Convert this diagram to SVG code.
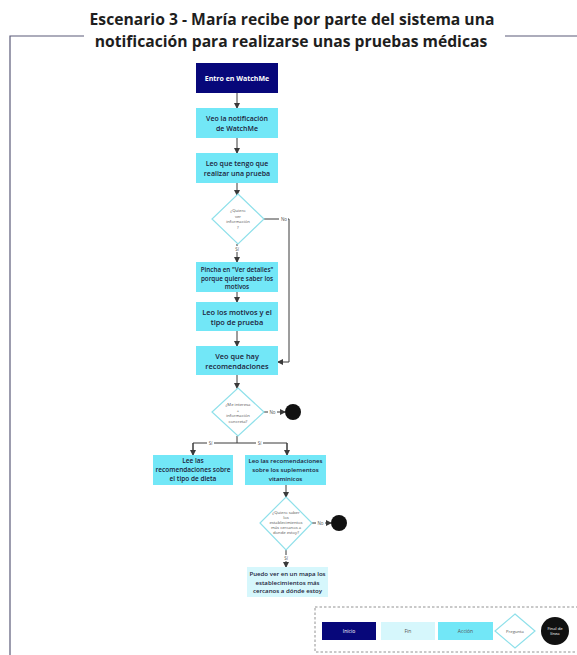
<svg xmlns="http://www.w3.org/2000/svg" width="577" height="655" viewBox="0 0 577 655">
<defs>
<marker id="ah" markerWidth="6" markerHeight="6" refX="5" refY="3" orient="auto" markerUnits="userSpaceOnUse">
<path d="M0,0 L6,3 L0,6 Z" fill="#3a3a3a"/>
</marker>
<style>
.title{font-family:"Open Sans","Noto Sans",sans-serif;font-weight:700;font-size:15.7px;fill:#1e1e1e}
.t{font-family:"Open Sans","Noto Sans",sans-serif;font-weight:600;font-size:7px;fill:#1c1c3a;text-anchor:middle}
.tw{font-family:"Open Sans","Noto Sans",sans-serif;font-weight:700;font-size:7px;fill:#ffffff;text-anchor:middle}
.ts{font-family:"Open Sans","Noto Sans",sans-serif;font-size:4.2px;fill:#555;text-anchor:middle}
.lbl{font-family:"Open Sans","Noto Sans",sans-serif;font-size:4.5px;fill:#555;text-anchor:middle}
.start{fill:#07077a}
.act{fill:#72e7f7}
.fin{fill:#d6f7fc}
.dia{fill:#ffffff;stroke:#8fe0ea;stroke-width:1.2}
.end{fill:#111111}
.c{fill:none;stroke:#3a3a3a;stroke-width:1}
.frame{fill:none;stroke:#5a5a78;stroke-width:1.2}
</style>
</defs>
<rect width="577" height="655" fill="#ffffff"/>
<path class="frame" d="M84,36 H10 V655 M505,36 H577"/>
<text class="title" x="292" y="25" text-anchor="middle">Escenario 3 - María recibe por parte del sistema una</text>
<text class="title" x="291" y="47" text-anchor="middle">notificación para realizarse unas pruebas médicas</text>

<g id="connectors">
<path class="c" d="M237,93 V108" marker-end="url(#ah)"/>
<path class="c" d="M237,138 V153" marker-end="url(#ah)"/>
<path class="c" d="M237,183 V195" marker-end="url(#ah)"/>
<path class="c" d="M237,244 V262" marker-end="url(#ah)"/>
<rect x="234" y="246" width="6" height="6" fill="#fff"/>
<text class="lbl" x="237" y="250.5">Sí</text>
<path class="c" d="M263,219 H289 V362 H278" marker-end="url(#ah)"/>
<rect x="279" y="215" width="9" height="7" fill="#fff"/>
<text class="lbl" x="284" y="220.5">No</text>
<path class="c" d="M237,292 V302" marker-end="url(#ah)"/>
<path class="c" d="M237,331 V346" marker-end="url(#ah)"/>
<path class="c" d="M237,375 V388" marker-end="url(#ah)"/>
<path class="c" d="M263,412 H285" marker-end="url(#ah)"/>
<rect x="268" y="408" width="9" height="7" fill="#fff"/>
<text class="lbl" x="272.5" y="413.5">No</text>
<path class="c" d="M237,436 V443 M193,453 V443 H287 V453"/>
<path class="c" d="M193,443 V455" marker-end="url(#ah)"/>
<path class="c" d="M287,443 V455" marker-end="url(#ah)"/>
<rect x="207" y="440" width="7" height="6" fill="#fff"/>
<text class="lbl" x="210.5" y="444.5">Sí</text>
<rect x="256" y="440" width="7" height="6" fill="#fff"/>
<text class="lbl" x="259.5" y="444.5">Sí</text>
<path class="c" d="M286,485 V497" marker-end="url(#ah)"/>
<path class="c" d="M312,523 H331" marker-end="url(#ah)"/>
<rect x="316" y="519" width="9" height="7" fill="#fff"/>
<text class="lbl" x="320.5" y="524.5">No</text>
<path class="c" d="M286,550 V567" marker-end="url(#ah)"/>
<rect x="283" y="555" width="6" height="6" fill="#fff"/>
<text class="lbl" x="286" y="559.5">Sí</text>
</g>

<g id="n1"><rect class="start" x="196" y="63" width="82" height="30"/><text class="tw" x="237" y="80.5">Entro en WatchMe</text></g>
<g id="n2"><rect class="act" x="196" y="108" width="82" height="30"/><text class="t" x="237" y="121">Veo la notificación</text><text class="t" x="237" y="131">de WatchMe</text></g>
<g id="n3"><rect class="act" x="196" y="153" width="82" height="30"/><text class="t" x="237" y="166">Leo que tengo que</text><text class="t" x="237" y="176">realizar una prueba</text></g>
<g id="d1"><path class="dia" d="M238,194 L264,219 L238,244 L212,219 Z"/><text class="ts" x="238" y="212">¿Quiero</text><text class="ts" x="238" y="217.5">ver</text><text class="ts" x="238" y="223">información</text><text class="ts" x="238" y="228.5">?</text></g>
<g id="n4"><rect class="act" x="196" y="262" width="82" height="30"/><text class="t" x="237" y="272" style="font-size:6.3px">Pincha en "Ver detalles"</text><text class="t" x="237" y="280.5" style="font-size:6.3px">porque quiere saber los</text><text class="t" x="237" y="289" style="font-size:6.3px">motivos</text></g>
<g id="n5"><rect class="act" x="196" y="302" width="82" height="29"/><text class="t" x="237" y="314.5" style="font-size:7.4px">Leo los motivos y el</text><text class="t" x="237" y="325" style="font-size:7.4px">tipo de prueba</text></g>
<g id="n6"><rect class="act" x="196" y="346" width="82" height="29"/><text class="t" x="237" y="358.5" style="font-size:7.4px">Veo que hay</text><text class="t" x="237" y="369" style="font-size:7.4px">recomendaciones</text></g>
<g id="d2"><path class="dia" d="M238,388 L264,412 L238,436 L212,412 Z"/><text class="ts" x="238" y="406">¿Me interesa</text><text class="ts" x="238" y="411.5">+</text><text class="ts" x="238" y="417">información</text><text class="ts" x="238" y="422.5">concreta?</text></g>
<g id="e1"><circle class="end" cx="293" cy="412" r="8"/></g>
<g id="n7"><rect class="act" x="153" y="455" width="80" height="30"/><text class="t" x="193" y="463" style="font-size:6.5px">Lee las</text><text class="t" x="193" y="472" style="font-size:6.5px">recomendaciones sobre</text><text class="t" x="193" y="481" style="font-size:6.5px">el tipo de dieta</text></g>
<g id="n8"><rect class="act" x="245" y="455" width="81" height="30"/><text class="t" x="285.5" y="463" style="font-size:6.1px">Leo las recomendaciones</text><text class="t" x="285.5" y="472" style="font-size:6.1px">sobre los suplementos</text><text class="t" x="285.5" y="481" style="font-size:6.1px">vitamínicos</text></g>
<g id="d3"><path class="dia" d="M286,497 L312,523 L286,550 L260,523 Z"/><text class="ts" x="286" y="514">¿Quiero saber</text><text class="ts" x="286" y="519">los</text><text class="ts" x="286" y="524">establecimientos</text><text class="ts" x="286" y="529">más cercanos a</text><text class="ts" x="286" y="534">donde estoy?</text></g>
<g id="e2"><circle class="end" cx="339" cy="523" r="8"/></g>
<g id="n9"><rect class="fin" x="247" y="567" width="81" height="30"/><text class="t" x="287.5" y="576" style="font-size:6.1px">Puedo ver en un mapa los</text><text class="t" x="287.5" y="584.5" style="font-size:6.1px">establecimientos más</text><text class="t" x="287.5" y="593" style="font-size:6.1px">cercanos a dónde estoy</text></g>

<g id="legend">
<rect x="315" y="607" width="265" height="45" fill="none" stroke="#777" stroke-width="0.8" stroke-dasharray="2.5,2"/>
<rect class="start" x="322" y="622" width="54" height="18"/><text class="ts" x="349" y="632.5" style="fill:#fff;font-size:5px">Inicio</text>
<rect class="fin" x="381" y="622" width="54" height="18"/><text class="ts" x="408" y="632.5" style="font-size:5px">Fin</text>
<rect class="act" x="438" y="622" width="55" height="18"/><text class="ts" x="465.5" y="632.5" style="font-size:5px">Acción</text>
<path class="dia" d="M515,614 L535,631 L515,648 L495,631 Z"/><text class="ts" x="515" y="632.5">Pregunta</text>
<circle class="end" cx="555" cy="631" r="14"/><text class="ts" x="555" y="629.5" style="fill:#fff">Final de</text><text class="ts" x="555" y="635" style="fill:#fff">línea</text>
</g>
</svg>
